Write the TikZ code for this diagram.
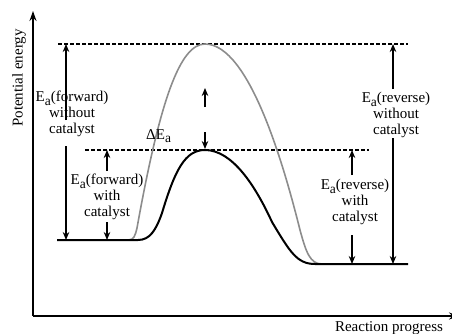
\documentclass[tikz,border=0pt]{standalone}
\usepackage{fontspec}
\setmainfont{Liberation Serif}
\usetikzlibrary{arrows.meta}
\newcommand\Esub{E\raisebox{-0.55ex}{\fontsize{13.5}{13.5}\selectfont a}}
\begin{document}
\begin{tikzpicture}[x=1pt,y=-1pt,
  axis/.style={line width=2pt,-{Stealth[length=10pt,width=7pt]}},
  ea/.style={line width=1.8pt,-{Stealth[length=8pt,width=6.5pt]}},
  lvl/.style={dash pattern=on 4pt off 2pt,line width=1.6pt},
  lbl/.style={font=\fontsize{15}{16}\selectfont,align=center,inner sep=0pt,anchor=north},
  ttl/.style={font=\fontsize{15}{16}\selectfont,inner sep=0pt},
  uncat/.style={line width=1.6pt,color=black!45},
  cat/.style={line width=2pt,color=black}]
\useasboundingbox (0,0) rectangle (452,333);
% axes
\coordinate (O) at (33,316);
\coordinate (ytop) at (33,11);
\coordinate (xend) at (459,316);
\draw[axis] (O) -- (ytop);
\draw[axis] (O) -- (xend);
\node[ttl,rotate=90] (ylab) at (19,78) {Potential energy};
\node[ttl,anchor=base] (xlab) at (389,331) {Reaction progress};
% dashed levels
\coordinate (u1) at (58,44);  \coordinate (u2) at (408,44);
\coordinate (l1) at (85,150); \coordinate (l2) at (369,150);
\draw[lvl] (u1) -- (u2);
\draw[lvl] (l1) -- (l2);
% uncatalysed curve
\draw[uncat] (128,240) .. controls (134,240) and (135,236) .. (137,228)
  .. controls (160,100) and (180,44) .. (205,44)
  .. controls (250,44) and (285,170) .. (300,230)
  .. controls (306,252) and (310,264) .. (322,264);
% catalysed curve
\draw[cat] (57,240) -- (138,240) .. controls (150,240) and (156,230) .. (162,213)
  .. controls (175,170) and (185,150) .. (205,150)
  .. controls (232,150) and (255,185) .. (272,222)
  .. controls (290,252) and (297,264) .. (315,264) -- (408,264);
% labels
\node[lbl] (fwo) at (72,91) {\Esub(forward)\\without\\catalyst};
\node[lbl] (fw) at (107,174) {\Esub(forward)\\with\\catalyst};
\node[lbl] (rwo) at (396,92) {\Esub(reverse)\\without\\catalyst};
\node[lbl] (rw) at (355,179) {\Esub(reverse)\\with\\catalyst};
\node[ttl,anchor=base west] (dE) at (146,139) {Δ\Esub};
% arrows
\coordinate (a1) at (66,120);  \coordinate (a1t) at (66,44);
\coordinate (a2) at (66,146);  \coordinate (a2t) at (66,240);
\coordinate (b1) at (107,171); \coordinate (b1t) at (107,150);
\coordinate (b2) at (107,222); \coordinate (b2t) at (107,240);
\coordinate (c1) at (205,107); \coordinate (c1t) at (205,88);
\coordinate (c2) at (205,132); \coordinate (c2t) at (205,149);
\coordinate (d1) at (393,89);  \coordinate (d1t) at (393,44);
\coordinate (d2) at (393,138); \coordinate (d2t) at (393,264);
\coordinate (e1) at (352,175); \coordinate (e1t) at (352,150);
\coordinate (e2) at (352,235); \coordinate (e2t) at (352,264);
\foreach \s in {a1,a2,b1,b2,c1,c2,d1,d2,e1,e2} \draw[ea] (\s) -- (\s t);
\end{tikzpicture}
\end{document}
